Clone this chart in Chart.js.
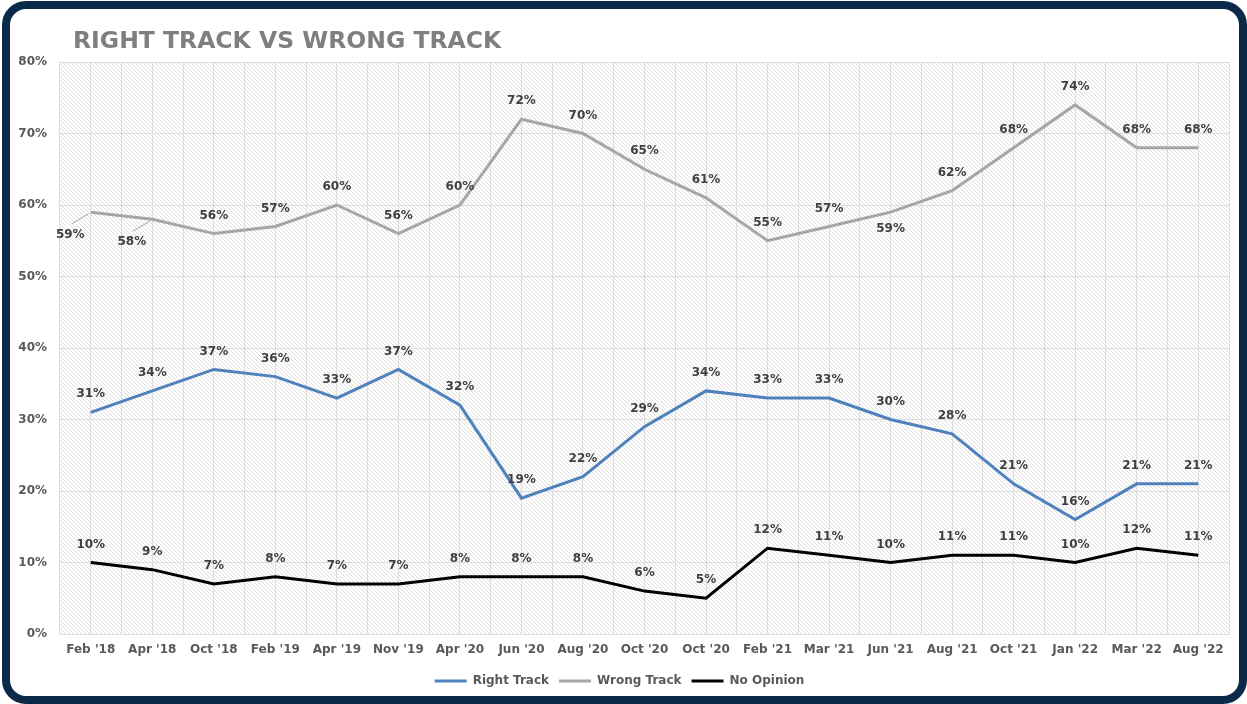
<!DOCTYPE html>
<html>
<head>
<meta charset="utf-8">
<script src="https://cdn.jsdelivr.net/npm/chart.js@4.4.1/dist/chart.umd.min.js"></script>
<style>
  html, body { margin: 0; padding: 0; background: #ffffff; }
  body { width: 1247px; height: 704px; position: relative; overflow: hidden; }
  #frame { position: absolute; left: 2px; top: 1px; width: 1245px; height: 703px; box-sizing: border-box;
           border: 8px solid #0b2a4a; border-radius: 24px; background: #ffffff; }
  #c { position: absolute; left: 0; top: 0; }
</style>
</head>
<body>
<div id="frame"></div>
<canvas id="c" width="1247" height="704"></canvas>
<script>
const chartTitle = "RIGHT TRACK VS WRONG TRACK";
const categories = ["Feb '18", "Apr '18", "Oct '18", "Feb '19", "Apr '19", "Nov '19", "Apr '20", "Jun '20", "Aug '20",
  "Oct '20", "Oct '20", "Feb '21", "Mar '21", "Jun '21", "Aug '21", "Oct '21", "Jan '22", "Mar '22", "Aug '22"];
const seriesNames = ["Right Track", "Wrong Track", "No Opinion"];
const rightTrack = [31, 34, 37, 36, 33, 37, 32, 19, 22, 29, 34, 33, 33, 30, 28, 21, 16, 21, 21];
const wrongTrack = [59, 58, 56, 57, 60, 56, 60, 72, 70, 65, 61, 55, 57, 59, 62, 68, 74, 68, 68];
const noOpinion  = [10, 9, 7, 8, 7, 7, 8, 8, 8, 6, 5, 12, 11, 10, 11, 11, 10, 12, 11];
const yMin = 0, yMax = 80, yStep = 10;

// label placement (style only): dataset index -> point index -> mode
const labelPlacement = { 1: { 0: 'belowLeft', 1: 'belowLeft', 13: 'below' } };

const FONT = '"DejaVu Sans", sans-serif';

const hatchPlugin = {
  id: 'hatch',
  beforeDraw(chart) {
    const { ctx, chartArea: a } = chart;
    const s = 4;
    const tile = document.createElement('canvas');
    tile.width = s; tile.height = s;
    const t = tile.getContext('2d');
    t.strokeStyle = '#dedede';
    t.lineWidth = 1;
    t.beginPath();
    t.moveTo(-1, -1); t.lineTo(s + 1, s + 1);
    t.stroke();
    const pat = ctx.createPattern(tile, 'repeat');
    ctx.save();
    ctx.fillStyle = pat;
    ctx.fillRect(a.left, a.top, a.right - a.left, a.bottom - a.top);
    ctx.restore();
  }
};

const titlePlugin = {
  id: 'customTitle',
  afterDraw(chart) {
    const ctx = chart.ctx;
    ctx.save();
    ctx.font = 'bold 23.5px ' + FONT;
    ctx.fillStyle = '#7f7f7f';
    ctx.textAlign = 'left';
    ctx.textBaseline = 'alphabetic';
    ctx.fillText(chartTitle, 73, 48);
    ctx.restore();
  }
};

const dataLabelPlugin = {
  id: 'dataLabels',
  afterDatasetsDraw(chart) {
    const ctx = chart.ctx;
    ctx.save();
    ctx.font = 'bold 12px ' + FONT;
    ctx.textAlign = 'center';
    ctx.textBaseline = 'middle';
    chart.data.datasets.forEach((ds, di) => {
      const meta = chart.getDatasetMeta(di);
      meta.data.forEach((pt, i) => {
        const mode = (labelPlacement[di] || {})[i] || 'above';
        let x = pt.x, y = pt.y;
        if (mode === 'above') { y -= 18; }
        else if (mode === 'below') { y += 17; }
        else if (mode === 'belowLeft') {
          ctx.strokeStyle = '#a6a6a6';
          ctx.lineWidth = 1;
          ctx.beginPath();
          ctx.moveTo(pt.x - 2, pt.y + 1.5);
          ctx.lineTo(pt.x - 19.5, pt.y + 12);
          ctx.stroke();
          x -= 20.5; y += 23;
        }
        ctx.fillStyle = '#404040';
        ctx.fillText(ds.data[i] + '%', x, y);
      });
    });
    ctx.restore();
  }
};

const lineDs = (label, data, color) => ({
  label, data, borderColor: color, backgroundColor: color, borderWidth: 3,
  pointRadius: 0, pointHoverRadius: 0, tension: 0, fill: false
});

new Chart(document.getElementById('c'), {
  type: 'line',
  data: {
    labels: categories,
    datasets: [
      lineDs(seriesNames[0], rightTrack, '#4f81bd'),
      lineDs(seriesNames[1], wrongTrack, '#a6a6a6'),
      lineDs(seriesNames[2], noOpinion, '#000000')
    ]
  },
  options: {
    responsive: false,
    animation: false,
    events: [],
    layout: { padding: { left: 10, right: 18, top: 62, bottom: 7 } },
    scales: {
      x: {
        type: 'category', offset: true,
        grid: { offset: true, color: '#dcdcdc', lineWidth: 1, drawTicks: false },
        border: { display: true, color: '#dcdcdc', width: 1 },
        ticks: { color: '#595959', font: { family: FONT, size: 12, weight: 'bold' }, padding: 9, maxRotation: 0, autoSkip: false },
        afterFit(scale) { scale.height = 31; }
      },
      x2: {
        type: 'category', position: 'bottom', offset: true,
        grid: { offset: false, color: '#dcdcdc', lineWidth: 1, drawTicks: false },
        border: { display: false },
        ticks: { display: false },
        afterFit(scale) { scale.height = 0; }
      },
      y: {
        min: yMin, max: yMax,
        grid: { color: '#dcdcdc', lineWidth: 1, drawTicks: false },
        border: { display: false },
        ticks: { stepSize: yStep, color: '#595959', font: { family: FONT, size: 12, weight: 'bold' }, padding: 13,
                 callback: v => v + '%' },
        afterFit(scale) { scale.width = 50; }
      }
    },
    plugins: {
      title: { display: false },
      tooltip: { enabled: false },
      legend: {
        position: 'bottom',
        labels: {
          usePointStyle: true, pointStyle: 'line', pointStyleWidth: 32, boxHeight: 12,
          color: '#595959', font: { family: FONT, size: 12, weight: 'bold' }, padding: 10
        }
      }
    }
  },
  plugins: [hatchPlugin, dataLabelPlugin, titlePlugin]
});
</script>
</body>
</html>
